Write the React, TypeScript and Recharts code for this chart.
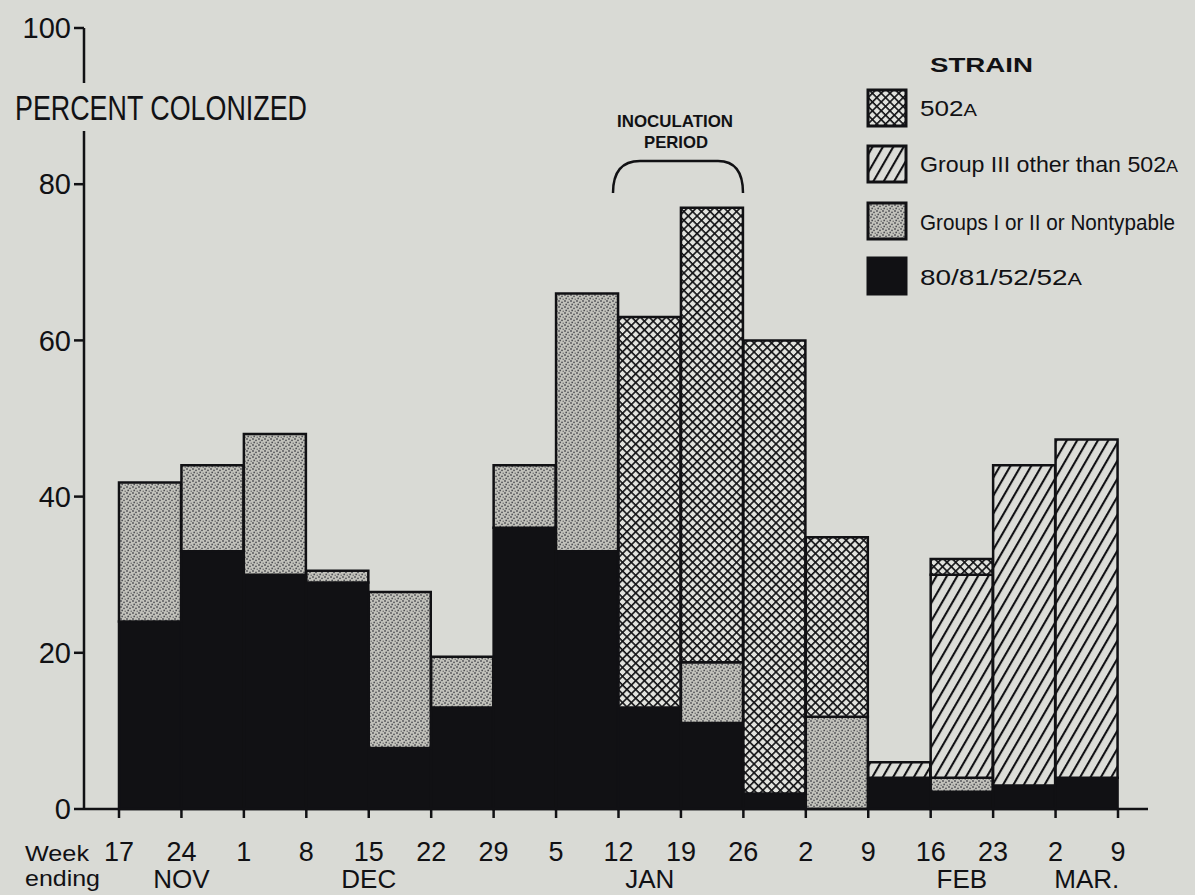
import React from 'react';
import { BarChart, Bar, XAxis, YAxis } from 'recharts';

// ---- data ----
const weekEndingLabels = ['17', '24', '1', '8', '15', '22', '29', '5', '12', '19', '26', '2', '9', '16', '23', '2', '9'];
const weekTickPositions = [0, 1, 2, 3, 4, 5, 6, 7, 8, 9, 10, 11, 12, 13, 14, 15, 16];
const monthNames = ['NOV', 'DEC', 'JAN', 'FEB', 'MAR.'];
const monthPositions = [1, 4, 8.5, 13.5, 15.5];
const yTicks = [0, 20, 40, 60, 80, 100];

const weeks = [
  'Nov 17-24', 'Nov 24-Dec 1', 'Dec 1-8', 'Dec 8-15', 'Dec 15-22', 'Dec 22-29', 'Dec 29-Jan 5', 'Jan 5-12',
  'Jan 12-19', 'Jan 19-26', 'Jan 26-Feb 2', 'Feb 2-9', 'Feb 9-16', 'Feb 16-23', 'Feb 23-Mar 2', 'Mar 2-9',
];
const strain80_81_52_52A = [24, 33, 30, 29, 7.8, 13, 36, 33, 13, 11, 2, 0, 4, 2.2, 3, 4];
const groupsIorIIorNontypable = [17.8, 11, 18, 1.5, 20, 6.5, 8, 33, 0, 7.8, 0, 11.8, 0, 1.8, 0, 0];
const groupIIIOtherThan502A = [0, 0, 0, 0, 0, 0, 0, 0, 0, 0, 0, 0, 2, 26, 41, 43.3];
const strain502A = [0, 0, 0, 0, 0, 0, 0, 0, 50, 58.2, 58, 23, 0, 2, 0, 0];

const rows = weeks.map((week, i) => ({
  week,
  mid: i + 0.5,
  black: strain80_81_52_52A[i],
  stipple: groupsIorIIorNontypable[i],
  diag: groupIIIOtherThan502A[i],
  cross: strain502A[i],
}));

const BG = '#d9dad5';
const INK = '#111114';
const FONT = '"Liberation Sans", Arial, sans-serif';

// plot spans x 84..1148; bars span 119..1118 (16 bands)
const pad = { left: 35, right: 30 };
const band = (1064 - pad.left - pad.right) / 16;
const numDomain: [number, number] = [-pad.left / band, 16 + pad.right / band];

function Patterns() {
  return (
    <svg width={0} height={0} style={{ position: 'absolute' }}>
      <defs>
        <pattern id="pCross" width={6.2} height={6.2} patternUnits="userSpaceOnUse" patternTransform="rotate(45)">
          <rect width={6.2} height={6.2} fill="#e2e3de" />
          <rect x={0} y={0} width={6.2} height={1.6} fill={INK} />
          <rect x={0} y={0} width={1.6} height={6.2} fill={INK} />
        </pattern>
        <pattern id="pDiag" width={9} height={9} patternUnits="userSpaceOnUse" patternTransform="rotate(30)">
          <rect width={9} height={9} fill="#dcddd8" />
          <rect x={0} y={0} width={2.1} height={9} fill={INK} />
        </pattern>
        <pattern id="pStip" width={6} height={6} patternUnits="userSpaceOnUse">
          <rect width={6} height={6} fill="#c2c2bb" />
          <circle cx={1} cy={1} r={0.9} fill="#505155" />
          <circle cx={4} cy={2.3} r={0.9} fill="#505155" />
          <circle cx={2.2} cy={4.4} r={0.9} fill="#505155" />
          <circle cx={5.2} cy={5.2} r={0.75} fill="#66676a" />
        </pattern>
      </defs>
    </svg>
  );
}

function Overlay() {
  const legend = [
    { fill: 'url(#pCross)', y: 90, text: '502', small: 'A', base: 116, len: 57 },
    { fill: 'url(#pDiag)', y: 146, text: 'Group III other than 502', small: 'A', base: 172, len: 258 },
    { fill: 'url(#pStip)', y: 203, text: 'Groups I or II or Nontypable', small: '', base: 230, len: 255 },
    { fill: INK, y: 258, text: '80/81/52/52', small: 'A', base: 285, len: 162 },
  ];
  return (
    <svg width={1195} height={895} style={{ position: 'absolute', left: 0, top: 0, pointerEvents: 'none' }}>
      {/* gap in the y axis behind the title */}
      <rect x={78} y={83} width={12} height={48} fill={BG} />
      <text x={15} y={120} fontFamily={FONT} fontSize={35} fill={INK} textLength={292} lengthAdjust="spacingAndGlyphs">
        PERCENT COLONIZED
      </text>

      {/* inoculation period */}
      <text x={617} y={127} fontFamily={FONT} fontWeight="bold" fontSize={17} fill={INK} textLength={116} lengthAdjust="spacingAndGlyphs">
        INOCULATION
      </text>
      <text x={644} y={148} fontFamily={FONT} fontWeight="bold" fontSize={17} fill={INK} textLength={64} lengthAdjust="spacingAndGlyphs">
        PERIOD
      </text>
      <path d="M613,193 C613,172 622,161 640,161 L718,161 C735,161 743,172 743,193" fill="none" stroke={INK} strokeWidth={2.5} />

      {/* legend */}
      <text x={930} y={72} fontFamily={FONT} fontWeight="bold" fontSize={21} fill={INK} textLength={103} lengthAdjust="spacingAndGlyphs">
        STRAIN
      </text>
      {legend.map((l) => (
        <g key={l.text}>
          <rect x={868} y={l.y} width={38} height={36} fill={l.fill} stroke={INK} strokeWidth={3} />
          <text x={920} y={l.base} fontFamily={FONT} fontSize={22} fill={INK} textLength={l.len} lengthAdjust="spacingAndGlyphs">
            {l.text}
            {l.small ? <tspan fontSize={17}>{l.small}</tspan> : null}
          </text>
        </g>
      ))}

      {/* x axis caption */}
      <text x={25} y={861} fontFamily={FONT} fontSize={22} fill={INK} textLength={64} lengthAdjust="spacingAndGlyphs">Week</text>
      <text x={25} y={886} fontFamily={FONT} fontSize={22} fill={INK} textLength={75} lengthAdjust="spacingAndGlyphs">ending</text>
    </svg>
  );
}

export default function App() {
  const axisStroke = { stroke: INK, strokeWidth: 2.5 };
  return (
    <div style={{ position: 'fixed', left: 0, top: 0, width: 1195, height: 895, background: BG, overflow: 'hidden' }}>
      <Patterns />
      <BarChart
        width={1195}
        height={895}
        data={rows}
        margin={{ top: 28, right: 47, bottom: 0, left: 0 }}
        barCategoryGap={0}
        barGap={0}
      >
        <XAxis xAxisId="a_cat" dataKey="week" hide height={0} padding={pad} />
        <XAxis
          xAxisId="b_week"
          dataKey="mid"
          type="number"
          domain={numDomain}
          allowDataOverflow
          ticks={weekTickPositions}
          interval={0}
          tickFormatter={(v: number) => weekEndingLabels[v]}
          height={57}
          tickSize={9}
          tickMargin={24}
          axisLine={axisStroke}
          tickLine={axisStroke}
          tick={{ fill: INK, fontSize: 27, fontFamily: FONT }}
        />
        <XAxis
          xAxisId="c_month"
          dataKey="mid"
          type="number"
          domain={numDomain}
          allowDataOverflow
          ticks={monthPositions}
          interval={0}
          tickFormatter={(v: number) => monthNames[monthPositions.indexOf(v)]}
          height={29}
          axisLine={false}
          tickLine={false}
          tickSize={0}
          tickMargin={4}
          tick={{ fill: INK, fontSize: 26, fontFamily: FONT }}
        />
        <YAxis
          type="number"
          domain={[0, 100]}
          ticks={yTicks}
          interval={0}
          width={84}
          tickSize={10}
          tickMargin={3}
          axisLine={axisStroke}
          tickLine={axisStroke}
          tick={{ fill: INK, fontSize: 29, fontFamily: FONT }}
        />
        <Bar xAxisId="a_cat" dataKey="black" stackId="s" fill={INK} stroke={INK} strokeWidth={2.5} isAnimationActive={false} />
        <Bar xAxisId="a_cat" dataKey="stipple" stackId="s" fill="url(#pStip)" stroke={INK} strokeWidth={2.5} isAnimationActive={false} />
        <Bar xAxisId="a_cat" dataKey="diag" stackId="s" fill="url(#pDiag)" stroke={INK} strokeWidth={2.5} isAnimationActive={false} />
        <Bar xAxisId="a_cat" dataKey="cross" stackId="s" fill="url(#pCross)" stroke={INK} strokeWidth={2.5} isAnimationActive={false} />
      </BarChart>
      <Overlay />
    </div>
  );
}
